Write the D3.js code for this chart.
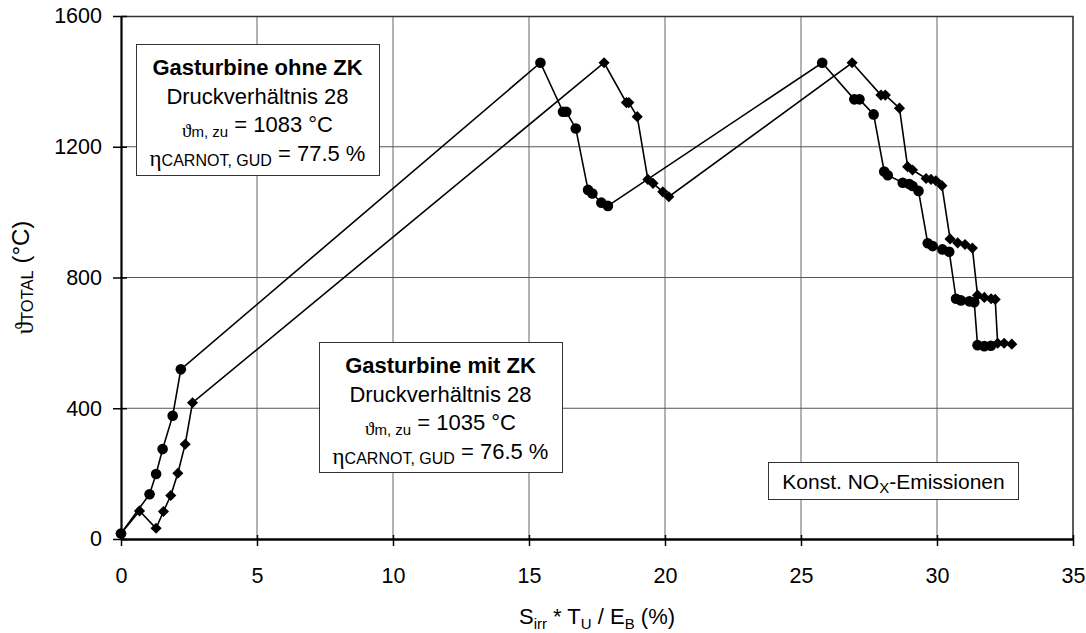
<!DOCTYPE html>
<html>
<head>
<meta charset="utf-8">
<script src="https://cdn.jsdelivr.net/npm/d3@7"></script>
<style>
	body { margin: 0; background: #fff; }
	text { font-family: "Liberation Sans", Arial, sans-serif; fill: #000; }
</style>
</head>
<body>
<div id="wrapper"></div>
<script>
// Gasturbine ohne ZK (circles)
const xOhne = [0, 1.05, 1.29, 1.53, 1.9, 2.2,
	15.42, 16.25, 16.37, 16.72, 17.17, 17.33, 17.66, 17.9,
	25.78, 26.96, 27.15, 27.67, 28.06, 28.19, 28.74, 28.98, 29.1, 29.32,
	29.66, 29.84, 30.2, 30.45,
	30.7, 30.88, 31.19, 31.37,
	31.49, 31.74, 31.98]
const yOhne = [17, 137, 199, 275, 377, 519,
	1457, 1307, 1307, 1256, 1068, 1057, 1029, 1019,
	1457, 1345, 1345, 1299, 1124, 1113, 1090, 1086, 1080, 1065,
	905, 896, 886, 879,
	735, 730, 727, 724,
	593, 590, 591]

// Gasturbine mit ZK (diamonds)
const xMit = [0, 0.68, 1.29, 1.56, 1.83, 2.09, 2.36, 2.63,
	17.76, 18.58, 18.67, 18.98, 19.37, 19.56, 19.92, 20.14,
	26.88, 27.94, 28.1, 28.62, 28.92, 29.1, 29.6, 29.78, 29.96, 30.18,
	30.48, 30.76, 31.03, 31.3,
	31.49, 31.74, 31.99, 32.14,
	32.23, 32.47, 32.75]
const yMit = [17, 86, 33, 84, 133, 201, 290, 417,
	1457, 1335, 1335, 1292, 1100, 1088, 1062, 1047,
	1457, 1358, 1358, 1318, 1139, 1129, 1103, 1100, 1096, 1081,
	918, 906, 901, 890,
	746, 739, 735, 733,
	599, 599, 596]

const xTicks = [0, 5, 10, 15, 20, 25, 30, 35]
const yTicks = [0, 400, 800, 1200, 1600]

async function drawChart() {
	const ohne = xOhne.map((x, i) => ({ x: x, y: yOhne[i] }))
	const mit = xMit.map((x, i) => ({ x: x, y: yMit[i] }))

	const xAccessor = d => d.x
	const yAccessor = d => d.y

	// Chart Dimensions
	let dimensions = {
		width: 1086,
		height: 633,
		margin: {
			top: 16,
			right: 13,
			bottom: 94,
			left: 121
		}
	}
	dimensions.boundedWidth = dimensions.width
		- dimensions.margin.left
		- dimensions.margin.right
	dimensions.boundedHeight = dimensions.height
		- dimensions.margin.top
		- dimensions.margin.bottom

	// Draw canvas
	const wrapper = d3.select('#wrapper')
		.append('svg')
			.attr('width', dimensions.width)
			.attr('height', dimensions.height)

	const bounds = wrapper.append('g')
		.attr('transform', `translate(${dimensions.margin.left}, ${dimensions.margin.top})`)

	// Scales
	const xScale = d3.scaleLinear()
		.domain([0, 35])
		.range([0, dimensions.boundedWidth])

	const yScale = d3.scaleLinear()
		.domain([0, 1600])
		.range([dimensions.boundedHeight, 0])

	// Grid
	bounds.append('g')
		.selectAll('line')
		.data(xTicks.slice(1, -1))
		.join('line')
			.attr('x1', d => xScale(d))
			.attr('x2', d => xScale(d))
			.attr('y1', 0)
			.attr('y2', dimensions.boundedHeight)
			.attr('stroke', '#666')
			.attr('stroke-width', 1)

	bounds.append('g')
		.selectAll('line')
		.data(yTicks.slice(1, -1))
		.join('line')
			.attr('x1', 0)
			.attr('x2', dimensions.boundedWidth)
			.attr('y1', d => yScale(d))
			.attr('y2', d => yScale(d))
			.attr('stroke', '#555')
			.attr('stroke-width', 1)

	// top + right frame
	bounds.append('path')
		.attr('d', `M0,0.5H${dimensions.boundedWidth}V${dimensions.boundedHeight}`)
		.attr('fill', 'none')
		.attr('stroke', '#333')
		.attr('stroke-width', 1.6)

	// Axes
	const yAxis = bounds.append('g')
		.call(d3.axisLeft(yScale)
			.tickValues(yTicks)
			.tickFormat(d3.format('d'))
			.tickSizeInner(8)
			.tickSizeOuter(0)
			.tickPadding(11))
	yAxis.selectAll('.tick line').attr('x1', 6).attr('stroke-width', 1.5)
	yAxis.select('.domain').attr('stroke-width', 2.2)
	yAxis.selectAll('text')
		.attr('font-size', 21.5)
		.attr('font-family', '"Liberation Sans", Arial, sans-serif')

	const xAxis = bounds.append('g')
		.attr('transform', `translate(0, ${dimensions.boundedHeight})`)
		.call(d3.axisBottom(xScale)
			.tickValues(xTicks)
			.tickFormat(d3.format('d'))
			.tickSizeInner(7)
			.tickSizeOuter(0)
			.tickPadding(22))
	xAxis.selectAll('.tick line').attr('y1', -4).attr('stroke-width', 1.5)
	xAxis.select('.domain').attr('stroke-width', 2.4)
	xAxis.selectAll('text')
		.attr('font-size', 21.5)
		.attr('font-family', '"Liberation Sans", Arial, sans-serif')

	// Lines
	const lineGenerator = d3.line()
		.x(d => xScale(xAccessor(d)))
		.y(d => yScale(yAccessor(d)))

	bounds.append('path')
		.attr('d', lineGenerator(ohne))
		.attr('fill', 'none')
		.attr('stroke', '#000')
		.attr('stroke-width', 1.6)

	bounds.append('path')
		.attr('d', lineGenerator(mit))
		.attr('fill', 'none')
		.attr('stroke', '#000')
		.attr('stroke-width', 1.6)

	// Markers
	bounds.append('g')
		.selectAll('circle')
		.data(ohne)
		.join('circle')
			.attr('cx', d => xScale(xAccessor(d)))
			.attr('cy', d => yScale(yAccessor(d)))
			.attr('r', 5.3)
			.attr('fill', '#000')

	const diamond = d3.symbol().type(d3.symbolSquare).size(62)
	bounds.append('g')
		.selectAll('path')
		.data(mit)
		.join('path')
			.attr('d', diamond)
			.attr('transform', d => `translate(${xScale(xAccessor(d))}, ${yScale(yAccessor(d))}) rotate(45)`)
			.attr('fill', '#000')

	// Text boxes
	const greek = '"Liberation Serif", "DejaVu Serif", serif'

	function addLine(parent, x, y, parts) {
		const t = parent.append('text')
			.attr('x', x)
			.attr('y', y)
			.attr('text-anchor', 'middle')
		parts.forEach(p => {
			t.append('tspan')
				.attr('font-size', p.size)
				.attr('dy', p.dy || 0)
				.attr('font-weight', p.bold ? 'bold' : null)
				.attr('font-family', p.greek ? greek : null)
				.text(p.t)
		})
		return t
	}

	function addBox(x, y, w, h, title, pressure, theta, eta) {
		const g = wrapper.append('g')
		g.append('rect')
			.attr('x', x + 0.5)
			.attr('y', y + 0.5)
			.attr('width', w)
			.attr('height', h)
			.attr('fill', '#fff')
			.attr('stroke', '#333')
			.attr('stroke-width', 1)
		const cx = x + w / 2
		addLine(g, cx, y + 31, [{ t: title, size: 22, bold: true }])
		addLine(g, cx, y + 60, [{ t: pressure, size: 22 }])
		addLine(g, cx, y + 88, [
			{ t: 'ϑ', size: 19, greek: true, dy: 5 },
			{ t: 'm, zu', size: 15 },
			{ t: ` = ${theta} °C`, size: 22, dy: -5 }
		])
		addLine(g, cx, y + 117, [
			{ t: 'η', size: 23, greek: true, dy: 5 },
			{ t: 'CARNOT, GUD', size: 16 },
			{ t: ` = ${eta} %`, size: 22, dy: -5 }
		])
	}

	addBox(136, 44, 243, 131, 'Gasturbine ohne ZK', 'Druckverhältnis 28', '1083', '77.5')
	addBox(319, 342, 243, 130, 'Gasturbine mit ZK', 'Druckverhältnis 28', '1035', '76.5')

	// Konst. NOx box
	const noxBox = wrapper.append('g')
	noxBox.append('rect')
		.attr('x', 768.5)
		.attr('y', 462.5)
		.attr('width', 250)
		.attr('height', 37)
		.attr('fill', '#fff')
		.attr('stroke', '#333')
		.attr('stroke-width', 1)
	addLine(noxBox, 893.5, 489, [
		{ t: 'Konst. NO', size: 21 },
		{ t: 'X', size: 15, dy: 4 },
		{ t: '-Emissionen', size: 21, dy: -4 }
	])

	// Axis titles
	addLine(wrapper, dimensions.margin.left + dimensions.boundedWidth / 2, 624, [
		{ t: 'S', size: 22 },
		{ t: 'irr', size: 15, dy: 5 },
		{ t: ' * T', size: 22, dy: -5 },
		{ t: 'U', size: 15, dy: 5 },
		{ t: ' / E', size: 22, dy: -5 },
		{ t: 'B', size: 15, dy: 5 },
		{ t: ' (%)', size: 22, dy: -5 }
	])

	const yTitle = wrapper.append('g')
		.attr('transform', `translate(29, ${dimensions.margin.top + dimensions.boundedHeight / 2}) rotate(-90)`)
	addLine(yTitle, 0, 0, [
		{ t: 'ϑ', size: 25, greek: true, dy: 4 },
		{ t: 'TOTAL', size: 16.5 },
		{ t: ' (°C)', size: 24, dy: -4 }
	])
}
drawChart()
</script>
</body>
</html>
